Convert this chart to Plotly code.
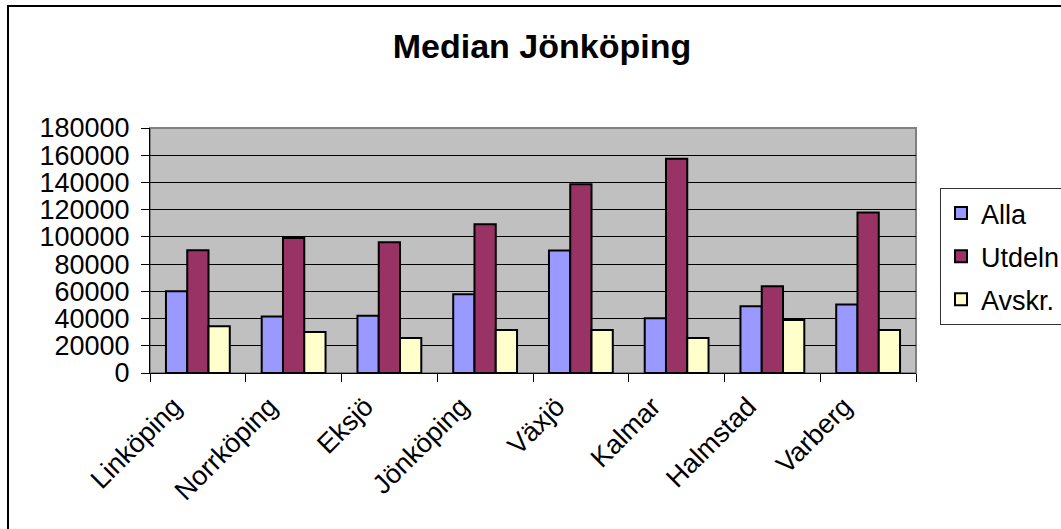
import plotly.graph_objects as go

categories = ["Linköping", "Norrköping", "Eksjö", "Jönköping", "Växjö", "Kalmar", "Halmstad", "Varberg"]
alla = [60000, 41600, 42000, 57800, 90000, 40200, 49000, 50400]
utdeln = [90100, 99100, 96000, 109200, 138600, 157400, 63700, 118000]
avskr = [34300, 30100, 25700, 31600, 31600, 25700, 38900, 31600]

series = [("Alla", alla, "#9999FF"), ("Utdeln", utdeln, "#993366"), ("Avskr.", avskr, "#FFFFCC")]

fig = go.Figure()
for name, vals, col in series:
    fig.add_trace(go.Bar(x=categories, y=vals, name=name, legendgroup=name,
                         marker=dict(color=col, line=dict(color="black", width=2))))

FONT = "Liberation Sans, Arial, sans-serif"
W, H = 1061, 529
L, T = 150, 128
PR, PB = 916, 373
R, B = W - PR, H - PB
pw, ph = W - L - R, H - T - B

fig.update_layout(
    width=W, height=H,
    margin=dict(l=L, r=R, t=T, b=B, pad=0, autoexpand=False),
    paper_bgcolor="white", plot_bgcolor="#C0C0C0",
    barmode="group", bargap=1.5/4.5, bargroupgap=0,
    font=dict(family=FONT, size=27, color="black"),
    title=dict(text="<b>Median Jönköping</b>", x=542/W, xanchor="center", y=1 - 46/H, yanchor="middle",
               font=dict(family=FONT, size=34, color="black")),
    legend=dict(x=(940 - L)/pw, xanchor="left", y=(PB - 188)/ph, yanchor="top",
                bordercolor="#333333", borderwidth=1, bgcolor="white",
                font=dict(family=FONT, size=27, color="black"), tracegroupgap=5),
    showlegend=True,
)
fig.update_xaxes(type="category", tickson="boundaries", ticks="outside", ticklen=8, tickcolor="black",
                 tickangle=-45, showline=True, linecolor="black", linewidth=1, showgrid=False,
                 ticklabelshift=-24, ticklabelstandoff=6, automargin=False,
                 tickfont=dict(family=FONT, size=27, color="black"))
fig.update_yaxes(range=[0, 180000], dtick=20000, tickformat="d", ticks="outside", ticklen=8, tickcolor="black",
                 showline=True, linecolor="black", linewidth=1, showgrid=True, gridcolor="black", gridwidth=1,
                 zeroline=False, ticklabelstandoff=6, automargin=False,
                 tickfont=dict(family=FONT, size=27, color="black"))

# plot area border (gray) and outer chart border
fig.add_shape(type="rect", xref="paper", yref="paper", x0=0, x1=1, y0=0, y1=1,
              line=dict(color="#808080", width=2), fillcolor="rgba(0,0,0,0)", layer="below")
fig.add_shape(type="rect", xref="paper", yref="paper", x0=(8 - L)/pw, x1=(W + 20 - L)/pw,
              y0=(PB - (H + 20))/ph, y1=(PB - 6)/ph,
              line=dict(color="black", width=2), fillcolor="rgba(0,0,0,0)", layer="above")

fig.write_html("out.html", config={"displayModeBar": False},
               post_script="document.body.style.margin='0';document.body.style.overflow='hidden';")
